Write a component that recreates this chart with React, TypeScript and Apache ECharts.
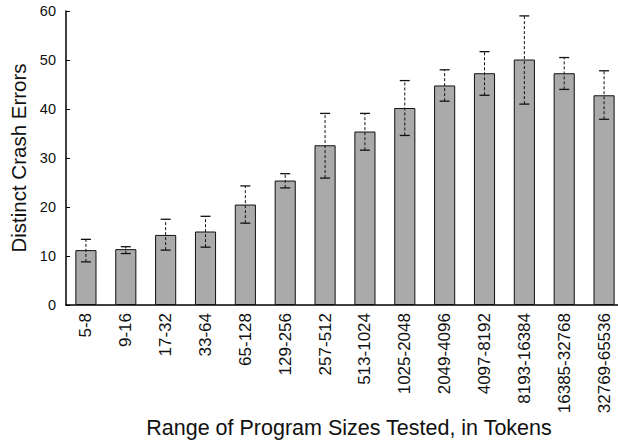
import React, { useEffect, useRef } from "react";
import * as echarts from "echarts";

const categories = ["5-8", "9-16", "17-32", "33-64", "65-128", "129-256", "257-512", "513-1024", "1025-2048", "2049-4096", "4097-8192", "8193-16384", "16385-32768", "32769-65536"];
const means = [11.2, 11.4, 14.3, 15.0, 20.5, 25.4, 32.6, 35.4, 40.2, 44.8, 47.3, 50.1, 47.3, 42.8];
const upper = [13.4, 11.9, 17.5, 18.1, 24.3, 26.8, 39.1, 39.1, 45.8, 48.0, 51.7, 59.0, 50.5, 47.8];
const lower = [8.8, 10.5, 11.2, 11.8, 16.7, 23.9, 25.9, 31.6, 34.6, 41.6, 42.8, 41.0, 44.0, 37.9];
const yTicks = [0, 10, 20, 30, 40, 50, 60];

const FONT = "Liberation Sans, Arial, Helvetica, sans-serif";

export default function App() {
  const ref = useRef<HTMLDivElement>(null);
  useEffect(() => {
    if (!ref.current) return;
    const chart = echarts.init(ref.current, undefined, { renderer: "svg" });
    const errData = categories.map((_, i) => [i, lower[i], upper[i]]);
    chart.setOption({
      animation: false,
      backgroundColor: "#ffffff",
      grid: { left: 66, right: -6, top: 11, bottom: 137, containLabel: false, outerBoundsMode: "none" },
      xAxis: {
        type: "category",
        data: categories,
        name: "Range of Program Sizes Tested, in Tokens",
        nameLocation: "middle",
        nameGap: 112,
        nameMoveOverlap: false,
        nameTextStyle: { fontFamily: FONT, fontSize: 21.5, color: "#111", padding: [0, 0, 0, 8] },
        axisLine: { lineStyle: { color: "#000", width: 1.5 } },
        axisTick: { show: false },
        axisLabel: { rotate: 90, color: "#111", fontFamily: FONT, fontSize: 17, margin: 8, interval: 0 },
      },
      yAxis: {
        type: "value",
        min: yTicks[0],
        max: yTicks[yTicks.length - 1],
        interval: 10,
        name: "Distinct Crash Errors",
        nameLocation: "middle",
        nameGap: 37,
        nameMoveOverlap: false,
        nameTextStyle: { fontFamily: FONT, fontSize: 20.5, color: "#111" },
        axisLine: { show: true, lineStyle: { color: "#000", width: 1.5 } },
        axisTick: { show: true, inside: true, length: 4, lineStyle: { color: "#000" } },
        axisLabel: { color: "#111", fontFamily: FONT, fontSize: 14.5, margin: 10 },
        splitLine: { show: false },
      },
      series: [
        {
          type: "bar",
          data: means,
          barWidth: "53%",
          itemStyle: { color: "#aaaaaa", borderColor: "#111", borderWidth: 1 },
          z: 2,
        },
        {
          type: "custom",
          data: errData,
          z: 3,
          renderItem: (params: any, api: any) => {
            const x = api.value(0);
            const lo = api.coord([x, api.value(1)]);
            const hi = api.coord([x, api.value(2)]);
            const hw = 5;
            return {
              type: "group",
              children: [
                {
                  type: "line",
                  shape: { x1: lo[0], y1: lo[1], x2: hi[0], y2: hi[1] },
                  style: { stroke: "#111", lineWidth: 1, lineDash: [3, 2] },
                },
                {
                  type: "line",
                  shape: { x1: lo[0] - hw, y1: lo[1], x2: lo[0] + hw, y2: lo[1] },
                  style: { stroke: "#111", lineWidth: 1.3 },
                },
                {
                  type: "line",
                  shape: { x1: hi[0] - hw, y1: hi[1], x2: hi[0] + hw, y2: hi[1] },
                  style: { stroke: "#111", lineWidth: 1.3 },
                },
              ],
            };
          },
        },
      ],
    });
    return () => chart.dispose();
  }, []);
  return <div ref={ref} style={{ position: "fixed", left: 0, top: 0, width: 618, height: 442 }} />;
}
